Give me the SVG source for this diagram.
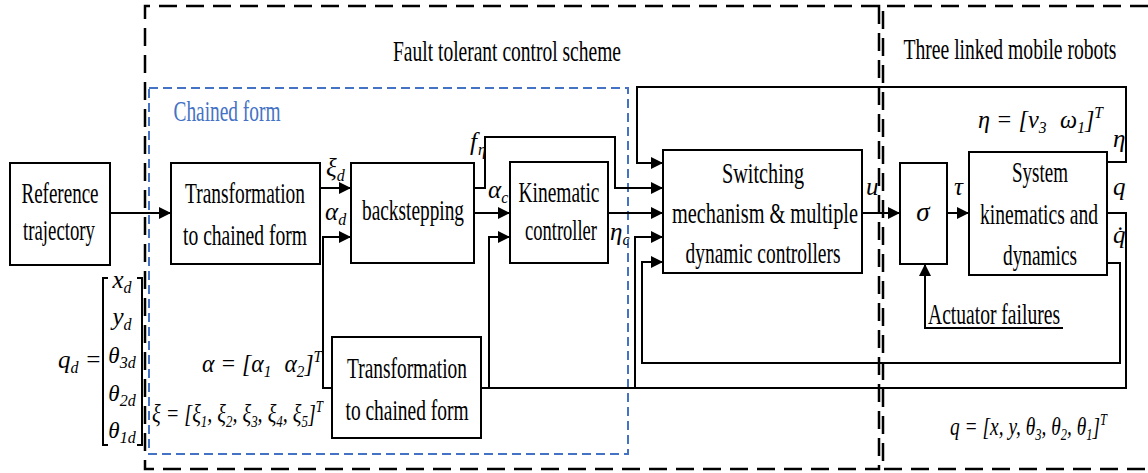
<svg xmlns="http://www.w3.org/2000/svg" width="1148" height="473" viewBox="0 0 1148 473">
<style>
.box{fill:#fff;stroke:#000;stroke-width:2}
.t{font-family:"Liberation Serif","Times New Roman",serif;font-size:30px;fill:#000;text-anchor:middle}
.m{font-family:"Liberation Serif","Times New Roman",serif;font-style:italic;font-size:25px;fill:#000}
.s{font-size:16px}
.c{fill:none;stroke:#000;stroke-width:2}
.frame{fill:none;stroke:#000;stroke-width:2.5;stroke-dasharray:18 9}
.blue{fill:none;stroke:#4472C4;stroke-width:2;stroke-dasharray:9 5}
</style>
<defs>
<marker id="ar" markerUnits="userSpaceOnUse" markerWidth="13" markerHeight="13" refX="12" refY="6" orient="auto">
<path d="M0,0 L12,6 L0,12 z" fill="#000"/>
</marker>
</defs>

<g id="frames">
<path class="frame" d="M879,6 H145 V469 H879 Z"/>
<path class="frame" d="M1148,6 H883 V469 H1148"/>
<rect class="blue" x="149" y="88" width="479" height="366"/>
<text class="t" x="507" y="61" textLength="228" lengthAdjust="spacingAndGlyphs">Fault tolerant control scheme</text>
<text class="t" x="1010" y="59" textLength="213" lengthAdjust="spacingAndGlyphs">Three linked mobile robots</text>
<text class="t" x="227" y="121" textLength="107" lengthAdjust="spacingAndGlyphs" style="fill:#4472C4">Chained form</text>
</g>

<g id="connectors">
<path class="c" d="M110,213 H171" marker-end="url(#ar)"/>
<path class="c" d="M320,188 H351" marker-end="url(#ar)"/>
<path class="c" d="M1107,213 H1126 V388 H323 V237 H351" marker-end="url(#ar)"/>
<path class="c" d="M474,188 H485 V137 H615 V188 H663" marker-end="url(#ar)"/>
<path class="c" d="M474,213 H510" marker-end="url(#ar)"/>
<path class="c" d="M489,388 V237 H510" marker-end="url(#ar)"/>
<path class="c" d="M608,213 H663" marker-end="url(#ar)"/>
<path class="c" d="M635,388 V237 H663" marker-end="url(#ar)"/>
<path class="c" d="M1107,263 H1120 V363 H642 V262 H663" marker-end="url(#ar)"/>
<path class="c" d="M1107,162 H1126 V87 H637 V163 H663" marker-end="url(#ar)"/>
<path class="c" d="M862,213 H900" marker-end="url(#ar)"/>
<path class="c" d="M947,213 H969" marker-end="url(#ar)"/>
<path class="c" d="M1063,328 H925 V264" marker-end="url(#ar)"/>
</g>

<g id="ref">
<rect class="box" x="10" y="163" width="100" height="102"/>
<text class="t" x="60" y="203" textLength="77" lengthAdjust="spacingAndGlyphs">Reference</text>
<text class="t" x="59" y="240" textLength="72" lengthAdjust="spacingAndGlyphs">trajectory</text>
</g>

<g id="transform1">
<rect class="box" x="171" y="163" width="149" height="101"/>
<text class="t" x="245" y="203" textLength="120" lengthAdjust="spacingAndGlyphs">Transformation</text>
<text class="t" x="245" y="245" textLength="124" lengthAdjust="spacingAndGlyphs">to chained form</text>
</g>

<g id="backstepping">
<rect class="box" x="351" y="163" width="123" height="100"/>
<text class="t" x="413" y="220" textLength="102" lengthAdjust="spacingAndGlyphs">backstepping</text>
</g>

<g id="kinematic">
<rect class="box" x="510" y="162" width="98" height="101"/>
<text class="t" x="559" y="202" textLength="81" lengthAdjust="spacingAndGlyphs">Kinematic</text>
<text class="t" x="561" y="240" textLength="72" lengthAdjust="spacingAndGlyphs">controller</text>
</g>

<g id="switching">
<rect class="box" x="663" y="150" width="199" height="123"/>
<text class="t" x="763" y="183" textLength="82" lengthAdjust="spacingAndGlyphs">Switching</text>
<text class="t" x="765" y="223" textLength="186" lengthAdjust="spacingAndGlyphs">mechanism &amp; multiple</text>
<text class="t" x="763" y="263" textLength="155" lengthAdjust="spacingAndGlyphs">dynamic controllers</text>
</g>

<g id="sigma">
<rect class="box" x="900" y="163" width="47" height="101"/>
<text class="m" x="923" y="221" text-anchor="middle" style="font-size:27px">σ</text>
</g>

<g id="system">
<rect class="box" x="969" y="152" width="138" height="123"/>
<text class="t" x="1040" y="182" textLength="56" lengthAdjust="spacingAndGlyphs">System</text>
<text class="t" x="1039" y="224" textLength="118" lengthAdjust="spacingAndGlyphs">kinematics and</text>
<text class="t" x="1040" y="265" textLength="74" lengthAdjust="spacingAndGlyphs">dynamics</text>
</g>

<g id="transform2">
<rect class="box" x="332" y="337" width="149" height="101"/>
<text class="t" x="407" y="378" textLength="120" lengthAdjust="spacingAndGlyphs">Transformation</text>
<text class="t" x="407" y="420" textLength="123" lengthAdjust="spacingAndGlyphs">to chained form</text>
</g>

<g id="actuator">
<text class="t" x="928" y="324" textLength="132" lengthAdjust="spacingAndGlyphs" style="text-anchor:start">Actuator failures</text>
</g>

<g id="labels">
<text class="m" x="326" y="176">ξ<tspan class="s" dy="5">d</tspan></text>
<text class="m" x="325" y="220">α<tspan class="s" dy="5">d</tspan></text>
<text class="m" x="470" y="150">f<tspan class="s" dx="1" dy="5">η</tspan></text>
<text class="m" x="488" y="198">α<tspan class="s" dy="5">c</tspan></text>
<text class="m" x="610" y="240">η<tspan class="s" dy="5">c</tspan></text>
<text class="m" x="866" y="195">u</text>
<text class="m" x="954" y="195">τ</text>
<text class="m" x="1113" y="147">η</text>
<text class="m" x="1113" y="195">q</text>
<text class="m" x="1113" y="243">q&#x307;</text>
<text class="m" x="978" y="128" textLength="125" lengthAdjust="spacingAndGlyphs">η = [v<tspan class="s" dy="5">3</tspan><tspan dx="14" dy="-5">ω</tspan><tspan class="s" dy="5">1</tspan><tspan dy="-5">]</tspan><tspan class="s" dy="-10">T</tspan></text>
<text class="m" x="202" y="372" textLength="120" lengthAdjust="spacingAndGlyphs">α = [α<tspan class="s" dy="5">1</tspan><tspan dx="14" dy="-5">α</tspan><tspan class="s" dy="5">2</tspan><tspan dy="-5">]</tspan><tspan class="s" dy="-10">T</tspan></text>
<text class="m" x="152" y="422" textLength="171" lengthAdjust="spacingAndGlyphs">ξ = [ξ<tspan class="s" dy="5">1</tspan><tspan dy="-5">, ξ</tspan><tspan class="s" dy="5">2</tspan><tspan dy="-5">, ξ</tspan><tspan class="s" dy="5">3</tspan><tspan dy="-5">, ξ</tspan><tspan class="s" dy="5">4</tspan><tspan dy="-5">, ξ</tspan><tspan class="s" dy="5">5</tspan><tspan dy="-5">]</tspan><tspan class="s" dy="-10">T</tspan></text>
<text class="m" x="950" y="435" textLength="157" lengthAdjust="spacingAndGlyphs">q = [x, y, θ<tspan class="s" dy="5">3</tspan><tspan dy="-5">, θ</tspan><tspan class="s" dy="5">2</tspan><tspan dy="-5">, θ</tspan><tspan class="s" dy="5">1</tspan><tspan dy="-5">]</tspan><tspan class="s" dy="-10">T</tspan></text>
<text class="m" x="58" y="368">q<tspan class="s" dy="5">d</tspan><tspan dy="-5"> =</tspan></text>
<path class="c" d="M108,278 H103 V445 H108 M137,278 H142 V445 H137"/>
<text class="m" x="122" y="288" text-anchor="middle">x<tspan class="s" dy="5">d</tspan></text>
<text class="m" x="122" y="325" text-anchor="middle">y<tspan class="s" dy="5">d</tspan></text>
<text class="m" x="122" y="363" text-anchor="middle" style="font-size:23px">θ<tspan class="s" dy="5">3d</tspan></text>
<text class="m" x="122" y="401" text-anchor="middle" style="font-size:23px">θ<tspan class="s" dy="5">2d</tspan></text>
<text class="m" x="122" y="438" text-anchor="middle" style="font-size:23px">θ<tspan class="s" dy="5">1d</tspan></text>
</g>
</svg>
